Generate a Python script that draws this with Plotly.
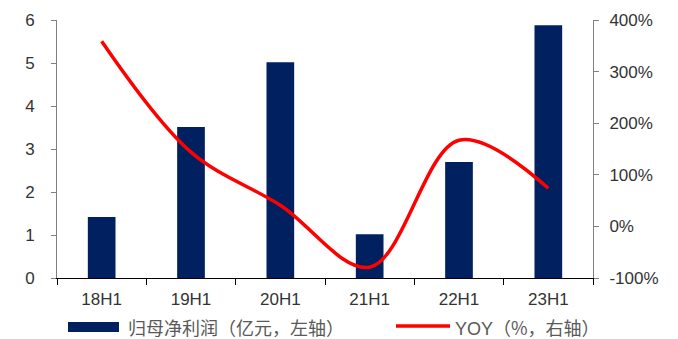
import plotly.graph_objects as go

categories = ["18H1", "19H1", "20H1", "21H1", "22H1", "23H1"]
profit = [1.42, 3.51, 5.02, 1.02, 2.70, 5.88]
yoy = [359, 144, 41, -79, 167, 74]
left_ticks = [0, 1, 2, 3, 4, 5, 6]
right_ticks = [-100, 0, 100, 200, 300, 400]

bar_name = "归母净利润（亿元，左轴）"
line_name = "YOY（%，右轴）"

BAR_COLOR = "#002060"
LINE_COLOR = "#FF0000"
TXT = "#333333"
CJK = "Noto Sans CJK SC"
LAT = "Liberation Sans, Arial"

fig = go.Figure()
fig.add_trace(go.Bar(x=categories, y=profit, name=bar_name, marker=dict(color=BAR_COLOR, line=dict(width=0)),
                     width=0.31, showlegend=False))
fig.add_trace(go.Scatter(x=categories, y=yoy, name=line_name, yaxis="y2", mode="lines",
                         line=dict(color=LINE_COLOR, width=3.5, shape="spline", smoothing=1.0),
                         showlegend=False))

fig.update_layout(
    width=678, height=339,
    margin=dict(l=57, r=85, t=20, b=61),
    plot_bgcolor="white", paper_bgcolor="white",
    font=dict(family=LAT, size=16, color=TXT),
    xaxis=dict(type="category", range=[-0.5, 5.5], showgrid=False, showline=True, linecolor="#000000",
               linewidth=1, ticks="outside", tickson="boundaries", ticklen=6, tickcolor="#000000",
               ticklabelstandoff=6,
               tickfont=dict(family=LAT, size=17, color=TXT)),
    yaxis=dict(range=[0, 6], tickvals=left_ticks, showgrid=False, showline=True, linecolor="#808080",
               linewidth=1, ticks="outside", ticklen=5, tickcolor="#808080", zeroline=False,
               ticklabelstandoff=13,
               tickfont=dict(family=LAT, size=17, color=TXT)),
    yaxis2=dict(range=[-100, 400], tickvals=right_ticks, ticktext=[f"{v}%" for v in right_ticks],
                overlaying="y", side="right", showgrid=False, showline=True, linecolor="#808080",
                linewidth=1, ticks="outside", ticklen=5, tickcolor="#808080", zeroline=False,
                ticklabelstandoff=7,
                tickfont=dict(family=LAT, size=17, color=TXT)),
)

# custom legend
fig.add_shape(type="rect", xref="paper", yref="paper", x0=(68-57)/536, x1=(119-57)/536,
              y0=(278-332)/258, y1=(278-322)/258, fillcolor=BAR_COLOR, line=dict(width=0))
fig.add_annotation(text=bar_name, xref="paper", yref="paper", x=(126-57)/536, y=(278-327)/258,
                   xanchor="left", yanchor="middle", showarrow=False,
                   font=dict(family=CJK, size=18, color="#595959"))
fig.add_shape(type="line", xref="paper", yref="paper", x0=(396-57)/536, x1=(450-57)/536,
              y0=(278-326)/258, y1=(278-326)/258, line=dict(color=LINE_COLOR, width=3.5))
fig.add_annotation(text="YOY<span style='font-family:Noto Sans CJK SC'>（%，右轴）</span>", xref="paper", yref="paper",
                   x=(453-57)/536, y=(278-327)/258,
                   xanchor="left", yanchor="middle", showarrow=False,
                   font=dict(family=LAT, size=18, color="#595959"))

fig.write_html("out.html")
